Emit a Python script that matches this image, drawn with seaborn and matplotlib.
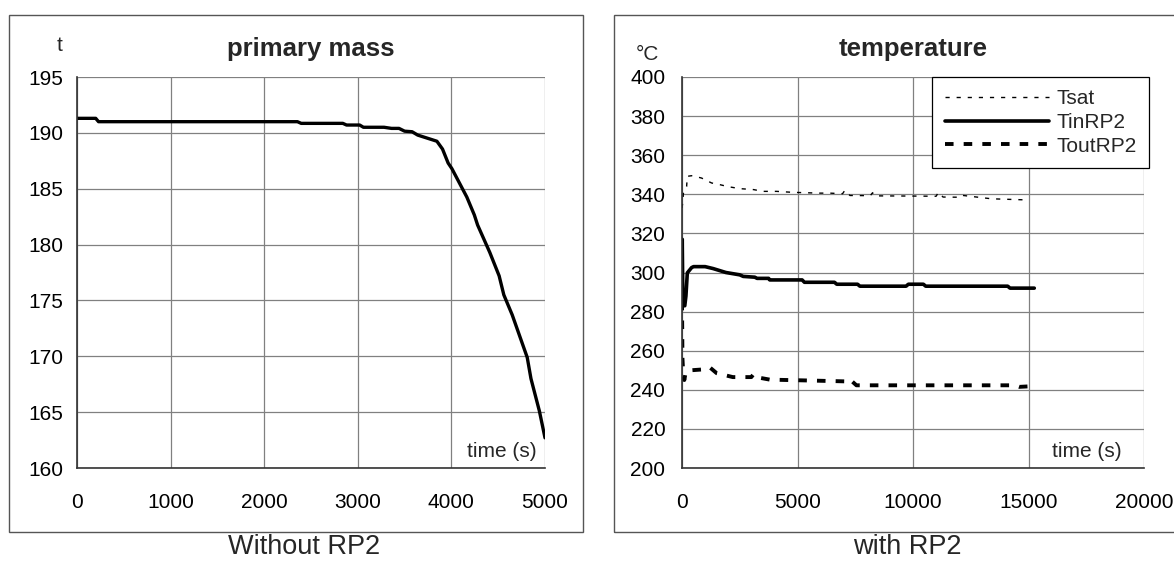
import matplotlib
matplotlib.use("Agg")
import matplotlib.pyplot as plt
from matplotlib.patches import Rectangle
import seaborn as sns
import pandas as pd

# ---------------- data ----------------
# Left panel: primary mass (t) vs time (s), without RP2
mass_time = [0, 200, 230, 2355, 2395, 2840, 2880, 3020, 3060, 3280, 3360, 3440, 3500,
             3580, 3640, 3845, 3905, 3965, 4005, 4165, 4245, 4280, 4410, 4510, 4560,
             4650, 4730, 4810, 4850, 4940, 5000]
mass_val = [191.3, 191.3, 191.0, 191.0, 190.85, 190.85, 190.7, 190.7, 190.5, 190.5,
            190.4, 190.4, 190.15, 190.1, 189.8, 189.25, 188.55, 187.3, 186.8, 184.25,
            182.65, 181.75, 179.3, 177.2, 175.5, 173.7, 171.8, 169.9, 168.0, 165.1, 162.7]

# Right panel: temperatures (°C) vs time (s), with RP2
tsat_time = [0, 30, 60, 200, 230, 415, 560, 850, 1280, 1650, 2000, 2500, 3100, 3500,
             4100, 4800, 5950, 6400, 6950, 7050, 7270, 8150, 8250, 8350, 10000, 11000,
             11100, 11300, 12000, 12100, 13400, 15000]
tsat_val = [333, 335.5, 340.5, 344, 349.2, 349.5, 349.2, 348.3, 345.8, 344.9, 343.9,
            342.9, 342.4, 341.5, 341.5, 341.0, 340.6, 340.6, 340.3, 342.0, 339.4, 339.3,
            340.8, 339.2, 339.1, 339.0, 341.0, 338.6, 338.5, 339.5, 337.7, 337.1]

tin_time = [0, 10, 40, 120, 170, 230, 415, 500, 1000, 1350, 1900, 2500, 2650, 3150,
            3250, 3750, 3800, 5200, 5300, 6600, 6700, 7600, 7700, 9700, 9800, 10450,
            10550, 14100, 14200, 15250]
tin_val = [292, 317, 283, 283, 288, 299.8, 302.5, 303, 303, 302, 300, 298.8, 298,
           297.6, 297, 297, 296.2, 296.2, 295, 295, 294, 294, 293, 293, 294, 294, 293,
           293, 292, 292]

tout_time = [0, 20, 50, 100, 160, 400, 1000, 1200, 1500, 2200, 3000, 3100, 3200, 3800,
             5700, 7100, 7250, 7550, 12000, 14400, 14600, 15250]
tout_val = [285, 256, 249, 245, 249, 250, 250.5, 251.5, 248.5, 246.5, 246.5, 248.0,
            246.5, 245.2, 244.7, 244.3, 245.5, 242.3, 242.3, 242.3, 241.5, 241.9]

left_xticks = [0, 1000, 2000, 3000, 4000, 5000]
left_yticks = [160, 165, 170, 175, 180, 185, 190, 195]
right_xticks = [0, 5000, 10000, 15000, 20000]
right_yticks = [200, 220, 240, 260, 280, 300, 320, 340, 360, 380, 400]

# ---------------- style ----------------
sns.set_style("white")
plt.rcParams["font.family"] = ["Liberation Sans", "DejaVu Sans"]

W, H = 1174, 561
fig = plt.figure(figsize=(W / 100, H / 100), dpi=100)
fig.patch.set_facecolor("white")


def fx(px):
    return px / W


def fy(py):
    return 1 - py / H


# outer frames (Excel chart areas)
fig.patches.append(Rectangle((fx(9), fy(532)), fx(583 - 9), (532 - 15) / H,
                             transform=fig.transFigure, fill=False,
                             edgecolor="#555555", lw=1.0))
fig.patches.append(Rectangle((fx(614), fy(532)), fx(1200 - 614), (532 - 15) / H,
                             transform=fig.transFigure, fill=False,
                             edgecolor="#555555", lw=1.0))

axL = fig.add_axes([fx(77), fy(468), fx(545 - 77), (468 - 77) / H])
axR = fig.add_axes([fx(682), fy(468), fx(1144 - 682), (468 - 77) / H])

GRID = "#808080"
AX = "#333333"


def style_axes(ax, xticks, yticks, ypad):
    ax.set_xlim(xticks[0], xticks[-1])
    ax.set_ylim(yticks[0], yticks[-1])
    ax.set_xticks(xticks)
    ax.set_yticks(yticks)
    ax.grid(True, color=GRID, lw=0.9)
    ax.set_axisbelow(True)
    for s in ["top", "right"]:
        ax.spines[s].set_visible(False)
    for s in ["left", "bottom"]:
        ax.spines[s].set_color(AX)
        ax.spines[s].set_linewidth(1.2)
    ax.tick_params(axis="both", direction="out", color=AX, width=1.0,
                   labelsize=15, labelcolor="black")
    ax.tick_params(axis="y", length=5, pad=ypad)
    ax.tick_params(axis="x", length=4, pad=14)
    ax.set_xlabel("")
    ax.set_ylabel("")


# ---- left panel ----
dfL = pd.DataFrame({"time": mass_time, "mass": mass_val})
sns.lineplot(data=dfL, x="time", y="mass", ax=axL, color="black", lw=2.4,
             estimator=None, sort=False)
style_axes(axL, left_xticks, left_yticks, 5)
axL.text((537 - 77) / 468, (468 - 457) / 391, "time (s)", transform=axL.transAxes,
         ha="right", va="baseline", fontsize=15)

# ---- right panel ----
dfS = pd.DataFrame({"time": tsat_time, "T": tsat_val})
dfI = pd.DataFrame({"time": tin_time, "T": tin_val})
dfO = pd.DataFrame({"time": tout_time, "T": tout_val})
sns.lineplot(data=dfS, x="time", y="T", ax=axR, color="black", lw=1.0,
             linestyle=(0, (3, 5)), estimator=None, sort=False, label="Tsat")
sns.lineplot(data=dfI, x="time", y="T", ax=axR, color="black", lw=2.6,
             estimator=None, sort=False, label="TinRP2")
sns.lineplot(data=dfO, x="time", y="T", ax=axR, color="black", lw=2.8,
             linestyle=(0, (2.2, 2.6)), estimator=None, sort=False, label="ToutRP2")
style_axes(axR, right_xticks, right_yticks, 7)
axR.text((1122 - 682) / 462, (468 - 457) / 391, "time (s)", transform=axR.transAxes,
         ha="right", va="baseline", fontsize=15)

leg = axR.legend(loc="upper right", bbox_to_anchor=((1149 - 682) / 462, 1.0),
                 borderaxespad=0, fontsize=15, frameon=True, fancybox=False,
                 framealpha=1, edgecolor="black", handlelength=5.0,
                 handletextpad=0.35, labelspacing=0.22, borderpad=0.6)
leg.get_frame().set_linewidth(0.9)

# ---- titles, unit labels, captions ----
fig.text(fx(311), fy(56), "primary mass", ha="center", va="baseline",
         fontsize=18.5, fontweight="bold")
fig.text(fx(913), fy(56), "temperature", ha="center", va="baseline",
         fontsize=18.5, fontweight="bold")
fig.text(fx(60), fy(51), "t", ha="center", va="baseline", fontsize=15)
fig.text(fx(647), fy(60), "°C", ha="center", va="baseline", fontsize=15)
fig.text(fx(304), fy(554), "Without RP2", ha="center", va="baseline", fontsize=19.5)
fig.text(fx(907), fy(554), "with RP2", ha="center", va="baseline", fontsize=19.5)

fig.savefig("out.png", dpi=100)
